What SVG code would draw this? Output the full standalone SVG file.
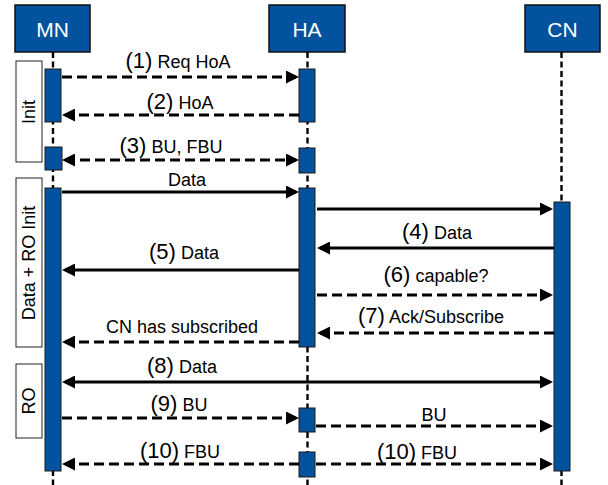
<svg xmlns="http://www.w3.org/2000/svg" width="608" height="485" viewBox="0 0 608 485">
<style>
.hdr{fill:#02529e;stroke:#111;stroke-width:1.5}
.hdrt{font-family:"Liberation Sans",Arial,sans-serif;font-size:21px;fill:#fff;text-anchor:middle}
.life{stroke:#000;stroke-width:2.4;stroke-dasharray:6,3.5;fill:none}
.act{fill:#02529e;stroke:#1a1a1a;stroke-width:1}
.phase{fill:#fff;stroke:#222;stroke-width:1}
.pht{font-family:"Liberation Sans",Arial,sans-serif;font-size:18px;fill:#000;text-anchor:middle}
.msg{stroke:#000;stroke-width:3.2;fill:none}
.dash{stroke-dasharray:10,5}
.lbl{font-family:"Liberation Sans",Arial,sans-serif;font-size:18px;fill:#000;text-anchor:middle}
.n{font-size:22px}
</style>
<defs>
<marker id="ah" viewBox="0 0 13 13" refX="10" refY="6.5" markerWidth="13" markerHeight="13" markerUnits="userSpaceOnUse" orient="auto-start-reverse">
<path d="M0,0 L13,6.5 L0,13 z" fill="#000"/>
</marker>
</defs>

<g id="MN">
<rect class="hdr" x="15" y="5" width="75" height="47"/>
<text class="hdrt" x="52.5" y="36.5">MN</text>
<line class="life" x1="53" y1="52" x2="53" y2="485"/>
</g>
<g id="HA">
<rect class="hdr" x="269" y="5" width="76" height="47"/>
<text class="hdrt" x="307" y="36.5">HA</text>
<line class="life" x1="307.5" y1="52" x2="307.5" y2="485"/>
</g>
<g id="CN">
<rect class="hdr" x="525" y="5" width="75" height="47"/>
<text class="hdrt" x="562.5" y="36.5">CN</text>
<line class="life" x1="561.5" y1="52" x2="561.5" y2="485"/>
</g>

<g id="phase-init">
<rect class="phase" x="16" y="61" width="26" height="101"/>
<text class="pht" transform="translate(35,112) rotate(-90)">Init</text>
</g>
<g id="phase-data">
<rect class="phase" x="16" y="178" width="26" height="169"/>
<text class="pht" transform="translate(35,263) rotate(-90)">Data + RO Init</text>
</g>
<g id="phase-ro">
<rect class="phase" x="16" y="364" width="26" height="74"/>
<text class="pht" transform="translate(35,401) rotate(-90)">RO</text>
</g>

<g id="activations">
<rect class="act" x="45" y="69" width="16" height="53"/>
<rect class="act" x="299" y="69" width="16" height="53"/>
<rect class="act" x="45" y="147" width="17" height="23"/>
<rect class="act" x="299" y="148" width="16" height="25"/>
<rect class="act" x="45" y="188" width="16" height="283"/>
<rect class="act" x="299" y="188" width="16" height="159"/>
<rect class="act" x="554" y="202" width="16" height="269"/>
<rect class="act" x="299" y="408" width="16" height="24"/>
<rect class="act" x="299" y="452" width="16" height="25"/>
</g>

<g id="connectors">
<line class="msg dash" x1="62" y1="77" x2="296" y2="77" marker-end="url(#ah)"/>
<line class="msg dash" x1="299" y1="115" x2="65" y2="115" marker-end="url(#ah)"/>
<line class="msg dash" x1="65" y1="160" x2="296" y2="160" marker-start="url(#ah)" marker-end="url(#ah)"/>
<line class="msg" x1="62" y1="192" x2="296" y2="192" marker-end="url(#ah)"/>
<line class="msg" x1="317" y1="209" x2="550" y2="209" marker-end="url(#ah)"/>
<line class="msg" x1="554" y1="248" x2="320" y2="248" marker-end="url(#ah)"/>
<line class="msg" x1="299" y1="270" x2="65" y2="270" marker-end="url(#ah)"/>
<line class="msg dash" x1="317" y1="295" x2="550" y2="295" marker-end="url(#ah)"/>
<line class="msg dash" x1="554" y1="333" x2="320" y2="333" marker-end="url(#ah)"/>
<line class="msg dash" x1="299" y1="342" x2="65" y2="342" marker-end="url(#ah)"/>
<line class="msg" x1="65" y1="382" x2="550" y2="382" marker-start="url(#ah)" marker-end="url(#ah)"/>
<line class="msg dash" x1="62" y1="418" x2="296" y2="418" marker-end="url(#ah)"/>
<line class="msg dash" x1="316" y1="426" x2="550" y2="426" marker-end="url(#ah)"/>
<line class="msg dash" x1="299" y1="464" x2="65" y2="464" marker-end="url(#ah)"/>
<line class="msg dash" x1="316" y1="464" x2="550" y2="464" marker-end="url(#ah)"/>
</g>

<g id="labels">
<text class="lbl" x="178" y="68"><tspan class="n">(1)</tspan> Req HoA</text>
<text class="lbl" x="180" y="109"><tspan class="n">(2)</tspan> HoA</text>
<text class="lbl" x="171" y="153"><tspan class="n">(3)</tspan> BU, FBU</text>
<text class="lbl" x="187" y="186">Data</text>
<text class="lbl" x="437" y="239"><tspan class="n">(4)</tspan> Data</text>
<text class="lbl" x="184" y="259"><tspan class="n">(5)</tspan> Data</text>
<text class="lbl" x="436" y="282"><tspan class="n">(6)</tspan> capable?</text>
<text class="lbl" x="431" y="323"><tspan class="n">(7)</tspan> Ack/Subscribe</text>
<text class="lbl" x="182" y="333">CN has subscribed</text>
<text class="lbl" x="182" y="373"><tspan class="n">(8)</tspan> Data</text>
<text class="lbl" x="179" y="411"><tspan class="n">(9)</tspan> BU</text>
<text class="lbl" x="434" y="421">BU</text>
<text class="lbl" x="180" y="458"><tspan class="n">(10)</tspan> FBU</text>
<text class="lbl" x="417" y="459"><tspan class="n">(10)</tspan> FBU</text>
</g>
</svg>
